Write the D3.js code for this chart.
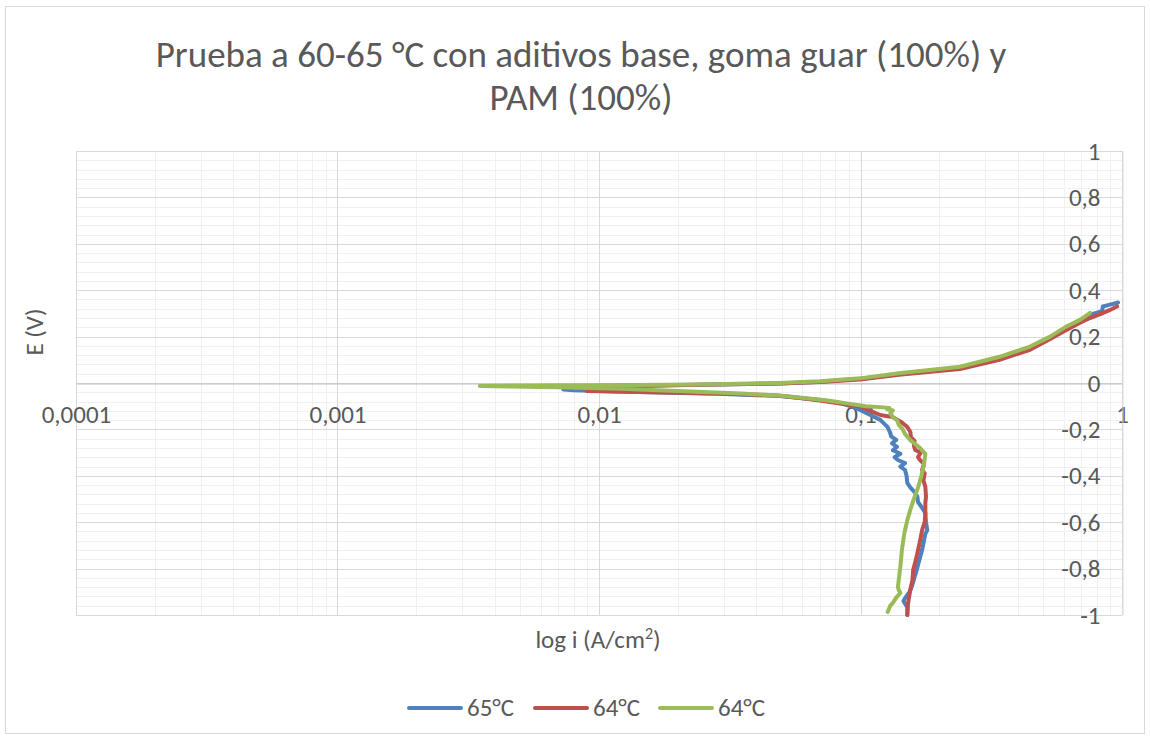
<!DOCTYPE html>
<html>
<head>
<meta charset="utf-8">
<script src="https://cdn.jsdelivr.net/npm/d3@7"></script>
<style>
  html, body { margin: 0; padding: 0; background: #fff; }
  svg text { font-family: Calibri, Carlito, Lato, "Open Sans", sans-serif; fill: #595959; }
</style>
</head>
<body>
<svg id="chart" width="1150" height="740"></svg>
<script>
// ---- Data ----
const seriesNames = ["65°C", "64°C", "64°C"];
const seriesColors = ["#4F81BD", "#C0504D", "#9BBB59"];

// 65°C : current density i (A/cm2) and potential E (V), scan from -1 V upward
const blueI = [0.151, 0.151, 0.146, 0.148, 0.154, 0.157, 0.164, 0.172, 0.177, 0.180, 0.178, 0.177, 0.170, 0.166, 0.165, 0.162, 0.155, 0.151,
  0.150, 0.148, 0.142, 0.148, 0.139, 0.135, 0.142, 0.133, 0.138, 0.132, 0.137, 0.131, 0.130, 0.127, 0.119, 0.109, 0.0996, 0.0912, 0.0835,
  0.070, 0.0587, 0.0492, 0.030, 0.0157, 0.0101, 0.0080, 0.0073,
  0.0085, 0.0101, 0.0243, 0.0492, 0.070, 0.0996, 0.119, 0.140, 0.240, 0.340, 0.445, 0.531, 0.605, 0.691, 0.755, 0.839, 0.845, 0.900, 0.966];
const blueE = [-1.0, -0.966, -0.94, -0.927, -0.90, -0.879, -0.806, -0.72, -0.65, -0.634, -0.60, -0.56, -0.53, -0.513, -0.49, -0.474, -0.45, -0.431,
  -0.40, -0.375, -0.36, -0.345, -0.332, -0.32, -0.305, -0.29, -0.275, -0.26, -0.245, -0.23, -0.216, -0.19, -0.159, -0.138, -0.116, -0.099, -0.086,
  -0.073, -0.065, -0.056, -0.047, -0.04, -0.035, -0.031, -0.028,
  -0.02, -0.012, -0.008, -0.002, 0.005, 0.018, 0.028, 0.038, 0.065, 0.105, 0.15, 0.195, 0.235, 0.27, 0.295, 0.31, 0.33, 0.338, 0.347];

// 64°C (red)
const redI = [0.151, 0.152, 0.155, 0.158, 0.159, 0.163, 0.166, 0.169, 0.172, 0.176, 0.177, 0.177, 0.178, 0.177, 0.174, 0.176, 0.172, 0.175,
  0.169, 0.166, 0.170, 0.162, 0.160, 0.161, 0.156, 0.155, 0.151, 0.144, 0.133, 0.119, 0.109, 0.0996, 0.0835, 0.070, 0.0587, 0.0492, 0.030,
  0.0157, 0.0101, 0.0090,
  0.0095, 0.012, 0.0243, 0.0492, 0.070, 0.0996, 0.140, 0.240, 0.340, 0.445, 0.531, 0.605, 0.691, 0.755, 0.839, 0.900, 0.957];
const redE = [-1.0, -0.95, -0.892, -0.85, -0.806, -0.76, -0.72, -0.68, -0.634, -0.60, -0.56, -0.517, -0.49, -0.448, -0.42, -0.39, -0.375, -0.35,
  -0.332, -0.319, -0.30, -0.289, -0.27, -0.25, -0.235, -0.21, -0.19, -0.17, -0.147, -0.138, -0.12, -0.10, -0.088, -0.075, -0.065, -0.055, -0.045,
  -0.04, -0.036, -0.034,
  -0.025, -0.015, -0.008, -0.002, 0.004, 0.015, 0.035, 0.06, 0.10, 0.143, 0.19, 0.225, 0.26, 0.28, 0.30, 0.315, 0.33];

// 64°C (green)
const greenI = [0.127, 0.130, 0.133, 0.137, 0.142, 0.140, 0.139, 0.140, 0.142, 0.144, 0.147, 0.151, 0.155, 0.160, 0.166, 0.171, 0.175, 0.177,
  0.175, 0.169, 0.155, 0.148, 0.145, 0.140, 0.138, 0.133, 0.130, 0.133, 0.126, 0.129, 0.119, 0.105, 0.0912, 0.075, 0.065, 0.050, 0.035,
  0.020, 0.012, 0.007, 0.0035,
  0.010, 0.0243, 0.0492, 0.070, 0.0996, 0.140, 0.240, 0.340, 0.445, 0.531, 0.605, 0.691, 0.755];
const greenE = [-0.987, -0.96, -0.948, -0.925, -0.905, -0.892, -0.879, -0.85, -0.793, -0.72, -0.65, -0.591, -0.547, -0.50, -0.45, -0.40, -0.35, -0.305,
  -0.30, -0.28, -0.246, -0.22, -0.20, -0.18, -0.16, -0.147, -0.13, -0.118, -0.112, -0.108, -0.104, -0.10, -0.09, -0.075, -0.068, -0.055, -0.045,
  -0.035, -0.025, -0.018, -0.013,
  -0.01, -0.006, 0.0, 0.008, 0.02, 0.042, 0.07, 0.113, 0.157, 0.20, 0.24, 0.272, 0.302];

const xTicks = [0.0001, 0.001, 0.01, 0.1, 1];
const xTickLabels = ["0,0001", "0,001", "0,01", "0,1", "1"];
const yTicks = [-1, -0.8, -0.6, -0.4, -0.2, 0, 0.2, 0.4, 0.6, 0.8, 1];

const titleLines = ["Prueba a 60-65 °C con aditivos base, goma guar (100%) y", "PAM (100%)"];
const yTitle = "E (V)";

// ---- Drawing ----
const svg = d3.select("#chart");
const W = 1150, H = 740;
const plot = { left: 76, right: 1122, top: 151, bottom: 615 };
const tickFont = 25;

svg.append("rect").attr("x", 5.5).attr("y", 6.5).attr("width", W - 11).attr("height", H - 13)
  .attr("fill", "#fff").attr("stroke", "#d9d9d9").attr("stroke-width", 1);

const x = d3.scaleLog().domain([1e-4, 1]).range([plot.left, plot.right]);
const y = d3.scaleLinear().domain([-1, 1]).range([plot.bottom, plot.top]);

// minor gridlines
const minorX = [];
for (let d = -4; d < 0; d++) for (let m = 2; m <= 9; m++) minorX.push(m * Math.pow(10, d));
const minorY = d3.range(-1, 1.0001, 0.04).map(v => +v.toFixed(2)).filter(v => Math.abs((v * 5) - Math.round(v * 5)) > 1e-6);

const grid = svg.append("g");
grid.selectAll(".mx").data(minorX).join("line")
  .attr("x1", d => Math.round(x(d)) + 0.5).attr("x2", d => Math.round(x(d)) + 0.5)
  .attr("y1", plot.top).attr("y2", plot.bottom).attr("stroke", "#f0f0f0").attr("stroke-width", 1);
grid.selectAll(".my").data(minorY).join("line")
  .attr("y1", d => Math.round(y(d)) + 0.5).attr("y2", d => Math.round(y(d)) + 0.5)
  .attr("x1", plot.left).attr("x2", plot.right).attr("stroke", "#f0f0f0").attr("stroke-width", 1);
grid.selectAll(".Mx").data(xTicks).join("line")
  .attr("x1", d => Math.round(x(d)) + 0.5).attr("x2", d => Math.round(x(d)) + 0.5)
  .attr("y1", plot.top).attr("y2", plot.bottom).attr("stroke", "#d9d9d9").attr("stroke-width", 1);
grid.selectAll(".My").data(yTicks).join("line")
  .attr("y1", d => Math.round(y(d)) + 0.5).attr("y2", d => Math.round(y(d)) + 0.5)
  .attr("x1", plot.left).attr("x2", plot.right).attr("stroke", "#d9d9d9").attr("stroke-width", 1);

// axes
const fmtY = v => (Math.abs(v) < 1e-9 ? "0" : (v < 0 ? "-" : "") + String(+Math.abs(v).toFixed(1)).replace(".", ","));
const xAxis = d3.axisBottom(x).tickValues(xTicks).tickFormat((d, i) => xTickLabels[i]).tickSize(0).tickPadding(22);
const gx = svg.append("g").attr("transform", `translate(0,${Math.round(y(0)) + 0.5})`).call(xAxis);
gx.select(".domain").attr("stroke", "#bfbfbf").attr("stroke-width", 1);
gx.selectAll("text").attr("font-size", tickFont).attr("fill", "#595959");

const yAxis = d3.axisLeft(y).tickValues(yTicks).tickFormat(fmtY).tickSize(0).tickPadding(22);
const gy = svg.append("g").attr("transform", `translate(${plot.right + 0.5},0)`).call(yAxis);
gy.select(".domain").attr("stroke", "#d9d9d9").attr("stroke-width", 1);
gy.selectAll("text").attr("font-size", tickFont).attr("fill", "#595959");

// series
const series = [
  { name: seriesNames[0], color: seriesColors[0], I: blueI, E: blueE },
  { name: seriesNames[1], color: seriesColors[1], I: redI, E: redE },
  { name: seriesNames[2], color: seriesColors[2], I: greenI, E: greenE }
];
const line = d3.line().x(d => x(d[0])).y(d => y(d[1]));
svg.append("g").selectAll("path").data(series).join("path")
  .attr("d", s => line(s.I.map((v, k) => [v, s.E[k]])))
  .attr("fill", "none").attr("stroke", s => s.color).attr("stroke-width", 4)
  .attr("stroke-linejoin", "round").attr("stroke-linecap", "round");

// title
svg.append("g").selectAll("text").data(titleLines).join("text")
  .attr("x", 581).attr("y", (d, i) => 67 + i * 43)
  .attr("text-anchor", "middle").attr("font-size", 37).attr("fill", "#595959").text(d => d);

// axis titles
const xt = svg.append("text").attr("x", 598).attr("y", 648).attr("text-anchor", "middle").attr("font-size", tickFont);
xt.append("tspan").text("log i (A/cm");
xt.append("tspan").attr("font-size", 16).attr("dy", -9).text("2");
xt.append("tspan").attr("dy", 9).text(")");

svg.append("text").attr("transform", "translate(43,332) rotate(-90)").attr("text-anchor", "middle")
  .attr("font-size", tickFont).text(yTitle);

// legend
const legendX = [409, 535, 660];
const lg = svg.append("g").selectAll("g").data(series).join("g")
  .attr("transform", (d, i) => `translate(${legendX[i]},708)`);
lg.append("line").attr("x1", 0).attr("x2", 52).attr("y1", 0).attr("y2", 0)
  .attr("stroke", d => d.color).attr("stroke-width", 4).attr("stroke-linecap", "round");
lg.append("text").attr("x", 58).attr("y", 8).attr("font-size", tickFont).text(d => d.name);
</script>
</body>
</html>
